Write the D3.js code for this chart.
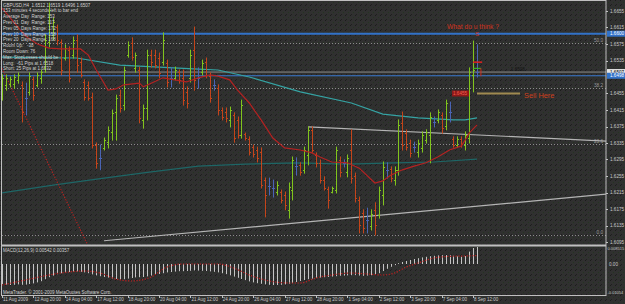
<!DOCTYPE html>
<html><head><meta charset="utf-8">
<script src="https://cdn.jsdelivr.net/npm/d3@7"></script>
<style>
body{margin:0;background:#2e2e2e;}
svg{display:block;}
text{font-family:"Liberation Sans",Arial,sans-serif;white-space:pre;}
</style></head><body>
<svg id="chart" width="625" height="304"></svg>
<script>
// GBPUSD H4 bars, 11 Aug - 8 Sep 2009
const barOpen = [1.6451,1.6476,1.6478,1.6478,1.6488,1.6476,1.6444,1.6459,1.6490,1.6476,
  1.6493,1.6517,1.6580,1.6597,1.6616,1.6580,1.6541,1.6560,1.6548,1.6585,
  1.6531,1.6483,1.6476,1.6447,1.6330,1.6299,1.6323,1.6337,1.6362,1.6410,
  1.6451,1.6427,1.6548,1.6577,1.6517,1.6512,1.6391,1.6420,1.6548,1.6548,
  1.6541,1.6531,1.6529,1.6493,1.6493,1.6507,1.6493,1.6459,1.6493,1.6560,
  1.6493,1.6507,1.6531,1.6497,1.6476,1.6468,1.6415,1.6410,1.6391,1.6403,
  1.6391,1.6354,1.6357,1.6345,1.6325,1.6318,1.6313,1.6245,1.6231,1.6226,
  1.6216,1.6216,1.6209,1.6173,1.6221,1.6279,1.6282,1.6270,1.6306,1.6367,
  1.6306,1.6287,1.6245,1.6224,1.6216,1.6221,1.6294,1.6287,1.6265,1.6318,
  1.6255,1.6197,1.6165,1.6148,1.6134,1.6173,1.6160,1.6209,1.6270,1.6272,
  1.6245,1.6270,1.6384,1.6359,1.6335,1.6325,1.6313,1.6323,1.6342,1.6354,
  1.6386,1.6391,1.6403,1.6376,1.6410,1.6345,1.6330,1.6345,1.6330,1.6347,
  1.6500,1.6507];
const barHigh = [1.6500,1.6500,1.6495,1.6500,1.6505,1.6483,1.6480,1.6505,1.6495,1.6505,
  1.6512,1.6597,1.6674,1.6638,1.6621,1.6585,1.6573,1.6568,1.6592,1.6597,
  1.6541,1.6488,1.6483,1.6456,1.6335,1.6330,1.6347,1.6374,1.6415,1.6451,
  1.6463,1.6519,1.6580,1.6590,1.6553,1.6519,1.6427,1.6560,1.6560,1.6560,
  1.6553,1.6602,1.6536,1.6517,1.6519,1.6512,1.6512,1.6471,1.6560,1.6616,
  1.6517,1.6536,1.6541,1.6505,1.6488,1.6476,1.6420,1.6420,1.6422,1.6408,
  1.6398,1.6439,1.6359,1.6350,1.6330,1.6325,1.6323,1.6250,1.6250,1.6245,
  1.6241,1.6221,1.6216,1.6238,1.6301,1.6299,1.6287,1.6325,1.6374,1.6374,
  1.6311,1.6294,1.6253,1.6228,1.6228,1.6325,1.6301,1.6294,1.6306,1.6367,
  1.6262,1.6204,1.6173,1.6177,1.6173,1.6190,1.6228,1.6289,1.6287,1.6277,
  1.6277,1.6391,1.6410,1.6367,1.6342,1.6337,1.6342,1.6362,1.6367,1.6408,
  1.6398,1.6415,1.6408,1.6439,1.6434,1.6350,1.6350,1.6350,1.6362,1.6517,
  1.6582,1.6573];
const barLow = [1.6439,1.6463,1.6471,1.6468,1.6480,1.6386,1.6403,1.6451,1.6439,1.6471,
  1.6480,1.6507,1.6568,1.6585,1.6573,1.6500,1.6536,1.6483,1.6541,1.6507,
  1.6495,1.6439,1.6439,1.6323,1.6274,1.6270,1.6318,1.6323,1.6342,1.6342,
  1.6410,1.6415,1.6543,1.6536,1.6507,1.6384,1.6371,1.6391,1.6519,1.6517,
  1.6493,1.6524,1.6471,1.6471,1.6488,1.6480,1.6427,1.6420,1.6483,1.6463,
  1.6468,1.6500,1.6493,1.6434,1.6463,1.6403,1.6391,1.6386,1.6374,1.6337,
  1.6347,1.6347,1.6342,1.6306,1.6301,1.6289,1.6226,1.6156,1.6209,1.6204,
  1.6209,1.6190,1.6173,1.6153,1.6197,1.6257,1.6257,1.6262,1.6282,1.6313,
  1.6277,1.6238,1.6221,1.6177,1.6214,1.6214,1.6253,1.6277,1.6253,1.6238,
  1.6192,1.6117,1.6117,1.6117,1.6124,1.6112,1.6153,1.6185,1.6250,1.6241,
  1.6233,1.6257,1.6318,1.6318,1.6301,1.6313,1.6301,1.6313,1.6335,1.6287,
  1.6374,1.6384,1.6359,1.6367,1.6386,1.6325,1.6325,1.6325,1.6318,1.6335,
  1.6459,1.6495];
const barClose = [1.6493,1.6493,1.6490,1.6495,1.6500,1.6410,1.6444,1.6497,1.6451,1.6500,
  1.6507,1.6585,1.6657,1.6628,1.6585,1.6512,1.6565,1.6493,1.6585,1.6524,
  1.6500,1.6447,1.6444,1.6330,1.6287,1.6299,1.6342,1.6367,1.6408,1.6444,
  1.6420,1.6512,1.6573,1.6543,1.6548,1.6396,1.6420,1.6548,1.6531,1.6524,
  1.6505,1.6585,1.6483,1.6493,1.6512,1.6488,1.6439,1.6432,1.6548,1.6488,
  1.6493,1.6529,1.6500,1.6444,1.6476,1.6415,1.6398,1.6396,1.6415,1.6347,
  1.6354,1.6427,1.6347,1.6313,1.6308,1.6299,1.6233,1.6209,1.6231,1.6226,
  1.6233,1.6197,1.6185,1.6228,1.6294,1.6279,1.6265,1.6318,1.6367,1.6318,
  1.6287,1.6245,1.6226,1.6197,1.6226,1.6318,1.6265,1.6287,1.6299,1.6250,
  1.6202,1.6136,1.6129,1.6148,1.6163,1.6136,1.6221,1.6277,1.6270,1.6250,
  1.6270,1.6379,1.6330,1.6325,1.6311,1.6325,1.6335,1.6354,1.6362,1.6398,
  1.6386,1.6410,1.6371,1.6432,1.6410,1.6330,1.6345,1.6333,1.6354,1.6507,
  1.6512,1.6507];

// moving averages: [bar, price]
const fastMa = [[0,1.6662],[3,1.6628],[6,1.6594],[9,1.6575],[12,1.6565],[15,1.6563],[20,1.6563],
  [22,1.6548],[24,1.6512],[26,1.6480],[27,1.6463],[29,1.6466],[31,1.6476],[35,1.6480],[36,1.6471],
  [38,1.6480],[41,1.6493],[44,1.6488],[47,1.6483],[50,1.6493],[53,1.6500],[55,1.6497],[58,1.6488],
  [60,1.6463],[63,1.6432],[66,1.6391],[69,1.6347],[72,1.6323],[76,1.6318],[79,1.6311],[81,1.6301],
  [84,1.6289],[88,1.6287],[91,1.6274],[95,1.6238],[97,1.6243],[99,1.6257],[102,1.6270],[105,1.6279],
  [108,1.6287],[111,1.6301],[114,1.6318],[117,1.6328],[118,1.6342],[119,1.6359],[121,1.6379]];
const midMa = [[0,1.6543],[19,1.6541],[30,1.6524],[40,1.6519],[50,1.6514],[55,1.6512],[63,1.6495],
  [76,1.6459],[89,1.6432],[97,1.6405],[106,1.6396],[115,1.6391],[118,1.6391],[121,1.6396]];
const slowMa = [[0,1.6214],[13,1.6233],[26,1.6250],[38,1.6265],[50,1.6279],[62,1.6284],[75,1.6287],
  [88,1.6284],[100,1.6287],[110,1.6289],[121,1.6296]];

// MACD(12,26,9)
const macdHist = [-0.0100,-0.0103,-0.0105,-0.0104,-0.0102,
  -0.0104,-0.0103,-0.0100,-0.0097,-0.0092,-0.0086,
  -0.0076,-0.0066,-0.0058,-0.0051,-0.0046,-0.0042,
  -0.0040,-0.0038,-0.0037,-0.0039,-0.0042,-0.0046,-0.0052,
  -0.0057,-0.0061,-0.0065,-0.0068,
  -0.0072,-0.0075,-0.0077,-0.0076,-0.0073,-0.0070,
  -0.0067,-0.0066,-0.0065,-0.0062,-0.0058,-0.0054,
  -0.0050,-0.0046,-0.0042,-0.0040,-0.0038,-0.0036,-0.0036,-0.0035,-0.0034,-0.0032,
  -0.0033,-0.0034,-0.0035,-0.0037,-0.0039,-0.0042,-0.0046,-0.0051,-0.0057,-0.0063,
  -0.0069,-0.0075,-0.0081,-0.0087,-0.0092,-0.0096,-0.0099,-0.0102,-0.0104,-0.0105,
  -0.0105,-0.0104,-0.0102,-0.0099,-0.0095,-0.0090,-0.0085,
  -0.0080,-0.0076,-0.0073,-0.0070,-0.0068,-0.0066,-0.0065,-0.0063,-0.0061,-0.0059,-0.0058,
  -0.0057,-0.0056,-0.0056,-0.0058,-0.0059,-0.0058,-0.0056,-0.0052,-0.0046,
  -0.0035,-0.0024,-0.0014,-0.0006,
  0.0004,0.0010,0.0015,
  0.0020,0.0025,0.0029,0.0033,0.0036,0.0039,0.0041,0.0043,0.0044,0.0045,0.0044,0.0041,0.0038,
  0.0036,0.0040,0.0062,0.0080,0.0085];
const macdSignal = [[0,-0.0105],[6,-0.0080],[15,-0.0045],[21,-0.0035],[25,-0.0045],[29,-0.0075],
  [33,-0.0085],[38,-0.0065],[42,-0.0015],[46,0.0000],[55,0.0000],[59,-0.0020],[63,-0.0055],
  [67,-0.0080],[73,-0.0095],[76,-0.0095],[80,-0.0070],[84,-0.0055],[89,-0.0045],[93,-0.0050],
  [97,-0.0055],[100,-0.0045],[103,-0.0015],[106,0.0005],[110,0.0030],[114,0.0038],[118,0.0040],[121,0.0042]];

const timeLabels = ["11 Aug 2009","12 Aug 20:00","14 Aug 04:00","17 Aug 12:00","18 Aug 20:00",
  "20 Aug 04:00","21 Aug 12:00","24 Aug 20:00","26 Aug 04:00","27 Aug 12:00","28 Aug 20:00",
  "1 Sep 04:00","2 Sep 12:00","3 Sep 20:00","7 Sep 04:00","8 Sep 12:00"];
const timeLabelBars = [0,8,16,24,32,40,48,56,64,72,80,88,96,104,112,120];
const priceTicks = [1.6655,1.6615,1.6575,1.6535,1.6455,1.6415,1.6375,1.6335,1.6295,1.6255,
  1.6215,1.6175,1.6135,1.6095];

const infoLines = ["GBPUSD,H4  1.6512 1.6519 1.6496 1.6507",
  "153 minutes 4 seconds left to bar end",
  "Average Day  Range: 153",
  "Prev 01  Day  Range: 117",
  "Prev 05  Days Range: 172",
  "Prev 10  Days Range: 158",
  "Prev 20  Days Range: 168",
  "Room Up:   -38",
  "Room Down: 76",
  "Max. StopLosses should be :",
  "Long:  -61 Pips at 1.6518",
  "Short: 25 Pips at 1.6532"];

const fiboHigh = 1.7044, fiboLow = 1.6112;
const fiboLevels = [0, 23.6, 38.2, 50.0];
const dayHigh = 1.6600, bid = 1.6507, ask = 1.6498;
const sellLevel = 1.6455;
// trend lines, two anchors each [bar, price]
const lowerTrend = [[26, 1.6098], [120, 1.6181]];
const upperTrend = [[78, 1.6374], [120, 1.6355]];
const redTrend = [[10, 1.6320], [20, 1.6124]];

// ---- layout
const W = 625, H = 304;
const left = 2, right = 606, mainTop = 2, mainBottom = 244, macdTop = 247, macdBottom = 294;

const svg = d3.select('#chart');
const defs = svg.append('defs');
const pat = defs.append('pattern').attr('id', 'noise').attr('width', 5).attr('height', 5)
  .attr('patternUnits', 'userSpaceOnUse');
pat.append('rect').attr('width', 5).attr('height', 5).attr('fill', '#303030');
pat.append('rect').attr('x', 0).attr('y', 0).attr('width', 1).attr('height', 1).attr('fill', '#1b1b1b');
pat.append('rect').attr('x', 3).attr('y', 2).attr('width', 1).attr('height', 1).attr('fill', '#24361f');
pat.append('rect').attr('x', 1).attr('y', 4).attr('width', 1).attr('height', 1).attr('fill', '#1f1f1f');
defs.append('clipPath').attr('id', 'mainClip').append('rect')
  .attr('x', left).attr('y', mainTop).attr('width', right - left).attr('height', mainBottom - mainTop);
defs.append('clipPath').attr('id', 'macdClip').append('rect')
  .attr('x', left).attr('y', macdTop).attr('width', right - left).attr('height', macdBottom - macdTop);

svg.append('rect').attr('width', W).attr('height', H).attr('fill', 'url(#noise)');

const x = d3.scaleLinear().domain([0, 121]).range([2, 477]);
const y = d3.scaleLinear().domain([1.6095, 1.6655]).range([242, 11]);
const my = d3.scaleLinear().domain([-0.0105, 0.0085]).range([285, 247]);
const px = i => Math.round(x(i)) + 0.5;

const main = svg.append('g').attr('clip-path', 'url(#mainClip)');

// fibo levels
fiboLevels.forEach(function(l) {
  var p = fiboLow + (fiboHigh - fiboLow) * l / 100;
  main.append('line').attr('x1', left).attr('x2', right)
    .attr('y1', Math.round(y(p)) + 0.5).attr('y2', Math.round(y(p)) + 0.5)
    .attr('stroke', '#8a8a8a').attr('stroke-dasharray', '1,2');
  main.append('text').attr('x', 603).attr('y', y(p) - 1).attr('text-anchor', 'end')
    .attr('font-size', 4.6).attr('fill', '#9a9a9a').text(l.toFixed(1));
});

// horizontal levels
function hline(p, color, w) {
  main.append('line').attr('x1', left).attr('x2', right).attr('y1', y(p)).attr('y2', y(p))
    .attr('stroke', color).attr('stroke-width', w);
}
hline(dayHigh, '#3272c8', 2);
hline(bid, '#8a8a8a', 1);
hline(ask, '#3a7ad0', 1);

// slow / mid / fast MA
const maLine = d3.line().x(d => x(d[0])).y(d => y(d[1]));
main.append('path').attr('d', maLine(slowMa)).attr('fill', 'none').attr('stroke', '#1e6666').attr('stroke-width', 1.2);
main.append('path').attr('d', maLine(midMa)).attr('fill', 'none').attr('stroke', '#35a3a3').attr('stroke-width', 1.2);

// trend lines
function ray(a, toBar, color, dash) {
  var slope = (a[1][1] - a[0][1]) / (a[1][0] - a[0][0]);
  var l = main.append('line')
    .attr('x1', x(a[0][0])).attr('y1', y(a[0][1]))
    .attr('x2', x(toBar)).attr('y2', y(a[0][1] + slope * (toBar - a[0][0])))
    .attr('stroke', color).attr('stroke-width', 1.2);
  if (dash) l.attr('stroke-dasharray', dash);
}
ray(lowerTrend, x.invert(right), '#b4b4b4');
ray(upperTrend, x.invert(right), '#b4b4b4');
ray([[x.invert(-20), redTrend[0][1] + (redTrend[1][1] - redTrend[0][1]) / 10 * (x.invert(-20) - 10)], redTrend[1]],
  30, '#b82020', '1.2,1.6');

// bars
const barColor = i => barClose[i] > barOpen[i] ? '#80c41c' : (barClose[i] < barOpen[i] ? '#c4441a' : '#4a64b4');
const bars = main.append('g').selectAll('g').data(d3.range(barOpen.length)).enter().append('g')
  .attr('stroke', barColor).attr('stroke-width', 1);
bars.append('line').attr('x1', px).attr('x2', px)
  .attr('y1', i => y(barHigh[i]) - 0.5).attr('y2', i => y(barLow[i]) + 0.5);
bars.append('line').attr('x1', i => px(i) - 1.5).attr('x2', px)
  .attr('y1', i => Math.round(y(barOpen[i])) + 0.5).attr('y2', i => Math.round(y(barOpen[i])) + 0.5);
bars.append('line').attr('x1', px).attr('x2', i => px(i) + 1.5)
  .attr('y1', i => Math.round(y(barClose[i])) + 0.5).attr('y2', i => Math.round(y(barClose[i])) + 0.5);

main.append('path').attr('d', maLine(fastMa)).attr('fill', 'none').attr('stroke', '#b42222').attr('stroke-width', 1.2);

// markers on the last bars
main.append('line').attr('x1', x(120)).attr('x2', x(122.3)).attr('y1', y(1.6531)).attr('y2', y(1.6531))
  .attr('stroke', '#e02020').attr('stroke-width', 1.5);
main.append('line').attr('x1', x(120)).attr('x2', x(122)).attr('y1', y(1.6516)).attr('y2', y(1.6516))
  .attr('stroke', '#40c020').attr('stroke-width', 1);
main.append('line').attr('x1', x(122)).attr('x2', x(122)).attr('y1', y(1.6516)).attr('y2', y(1.6497))
  .attr('stroke', '#d03020').attr('stroke-width', 1);
main.append('text').attr('x', x(121) - 2).attr('y', y(1.6601) + 3).attr('font-size', 6)
  .attr('fill', '#d03020').text('S');

// sell annotation
main.append('line').attr('x1', x(121)).attr('x2', 520).attr('y1', y(sellLevel)).attr('y2', y(sellLevel))
  .attr('stroke', '#a08a50').attr('stroke-width', 2);
main.append('rect').attr('x', 452).attr('y', y(sellLevel) - 3).attr('width', 17).attr('height', 6)
  .attr('fill', '#8e1818');
main.append('text').attr('x', 453).attr('y', y(sellLevel) + 1.8).attr('font-size', 4.6)
  .attr('fill', '#f06050').text(sellLevel.toFixed(4));
main.append('text').attr('x', 524).attr('y', y(sellLevel) + 4.5).attr('font-size', 7.4)
  .attr('fill', '#d0401e').text('Sell Here');
main.append('text').attr('x', 447).attr('y', 28.5).attr('font-size', 6.7)
  .attr('fill', '#d0331e').text('What do u think ?');
main.append('text').attr('x', 505).attr('y', y(1.6508) - 1).attr('font-size', 4.6)
  .attr('fill', '#151515').text('\u2190 1.6508');

// info block
main.append('g').selectAll('text').data(infoLines).enter().append('text')
  .attr('x', 3).attr('y', (d, k) => 6.6 + k * 5.8).attr('font-size', 4.5).attr('fill', '#d2d2d2')
  .text(d => d);

// MACD pane
const macd = svg.append('g').attr('clip-path', 'url(#macdClip)');
macd.selectAll('line.h').data(macdHist).enter().append('line').attr('class', 'h')
  .attr('x1', (d, i) => px(i)).attr('x2', (d, i) => px(i))
  .attr('y1', my(0)).attr('y2', d => my(d))
  .attr('stroke', '#c4c4c4').attr('stroke-width', 1);
macd.append('path').attr('d', d3.line().x(d => x(d[0])).y(d => my(d[1])).curve(d3.curveMonotoneX)(macdSignal))
  .attr('fill', 'none').attr('stroke', '#c42020').attr('stroke-width', 1.2).attr('stroke-dasharray', '1.2,1.6');
macd.append('text').attr('x', 3).attr('y', 252).attr('font-size', 4.5).attr('fill', '#d2d2d2')
  .text('MACD(12,26,9) 0.00542 0.00357');
macd.append('text').attr('x', 3).attr('y', 293.5).attr('font-size', 4.5).attr('fill', '#d2d2d2')
  .text('MetaTrader, \u00a9 2001-2009 MetaQuotes Software Corp.');

// frame
const frame = svg.append('g').attr('fill', 'none').attr('stroke', '#c0c0c0');
frame.append('rect').attr('x', 1.5).attr('y', 0.5).attr('width', right - 1.5).attr('height', 295);
frame.append('line').attr('x1', 1).attr('x2', right).attr('y1', 245.5).attr('y2', 245.5).attr('stroke-width', 2);

// price axis
const axisText = svg.append('g').attr('font-size', 4.6).attr('fill', '#c8c8c8');
axisText.selectAll('text.p').data(priceTicks).enter().append('text').attr('class', 'p')
  .attr('x', 610).attr('y', d => y(d) + 1.7).text(d => d.toFixed(4));
svg.selectAll('line.pt').data(priceTicks).enter().append('line').attr('class', 'pt')
  .attr('x1', right).attr('x2', right + 2).attr('y1', d => Math.round(y(d)) + 0.5).attr('y2', d => Math.round(y(d)) + 0.5)
  .attr('stroke', '#c0c0c0');
function priceBox(p, bg, fg) {
  svg.append('rect').attr('x', 607).attr('y', y(p) - 3).attr('width', 18).attr('height', 6).attr('fill', bg);
  svg.append('text').attr('x', 610).attr('y', y(p) + 1.7).attr('font-size', 4.6).attr('fill', fg).text(p.toFixed(4));
}
priceBox(dayHigh, '#3272c8', '#ffffff');
priceBox(bid, '#e6e6e6', '#000000');
priceBox(ask, '#3272c8', '#ffffff');

// MACD axis
axisText.append('text').attr('x', 607.5).attr('y', my(0.008515) + 3.5).attr('font-size', 4).text('0.008515');
axisText.append('text').attr('x', 609).attr('y', my(0) + 1.7).text('0.00');
axisText.append('text').attr('x', 607.5).attr('y', 293.5).attr('font-size', 4).text('-0.01054');

// time axis
const tAxis = svg.append('g');
tAxis.selectAll('line').data(timeLabelBars).enter().append('line')
  .attr('x1', px).attr('x2', px).attr('y1', 295.5).attr('y2', 298).attr('stroke', '#c0c0c0');
tAxis.selectAll('text').data(timeLabels).enter().append('text')
  .attr('x', (d, k) => x(timeLabelBars[k]) + 1).attr('y', 300.5).attr('font-size', 4.5).attr('fill', '#c8c8c8')
  .text(d => d);
</script>
</body></html>
